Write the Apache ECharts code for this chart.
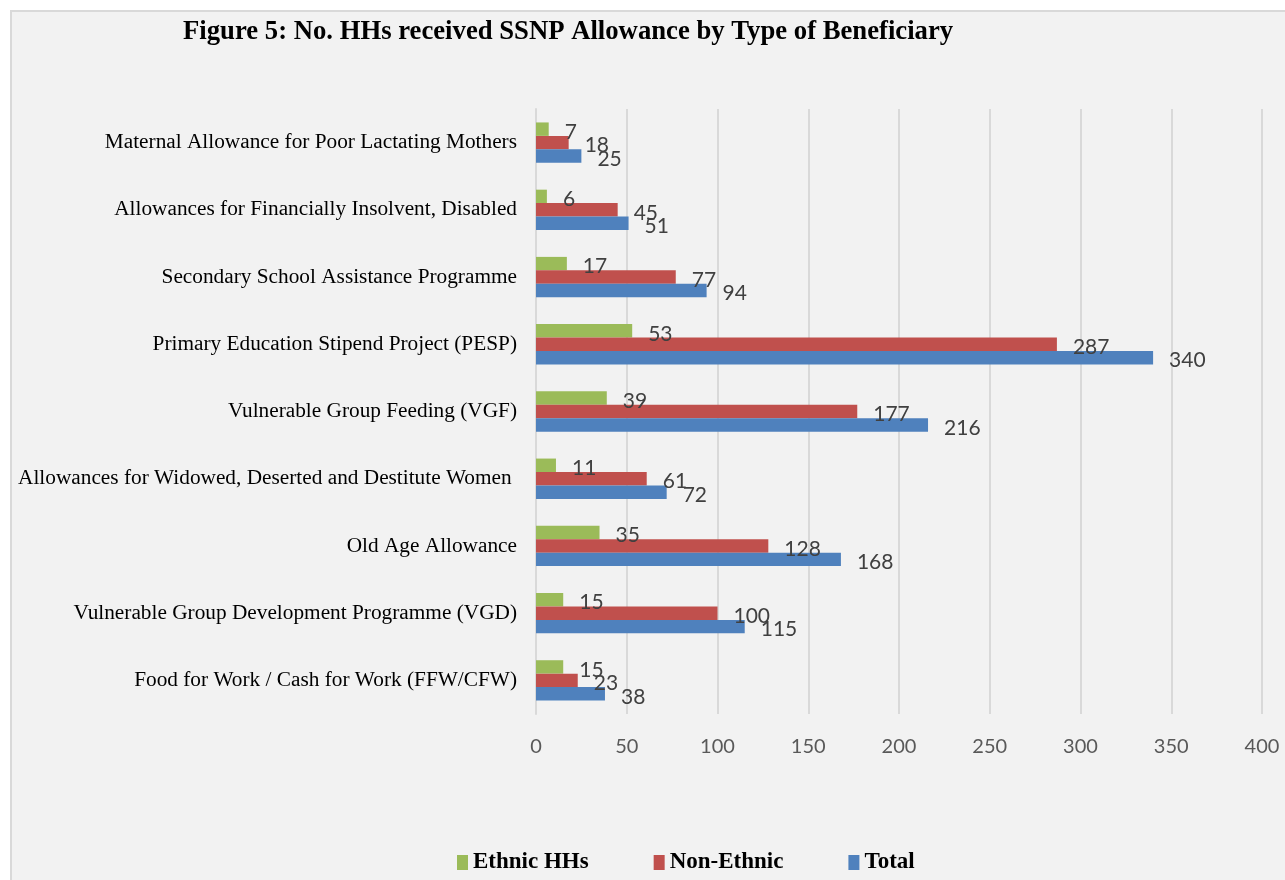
<!DOCTYPE html>
<html>
<head>
<meta charset="utf-8">
<title>No. HHs received SSNP Allowance by Type of Beneficiary</title>
<script src="https://cdn.jsdelivr.net/npm/echarts@6/dist/echarts.min.js"></script>
<style>
  html, body { margin: 0; padding: 0; background: #ffffff; }
  #chart { width: 1285px; height: 880px; }
</style>
</head>
<body>
<div id="chart"></div>
<script>
// Beneficiary programmes, listed from the bottom of the axis upward
const categories = [
  'Food for Work / Cash for Work (FFW/CFW)',
  'Vulnerable Group Development Programme (VGD)',
  'Old Age Allowance',
  'Allowances for Widowed, Deserted and Destitute Women ',
  'Vulnerable Group Feeding (VGF)',
  'Primary Education Stipend Project (PESP)',
  'Secondary School Assistance Programme',
  'Allowances for Financially Insolvent, Disabled',
  'Maternal Allowance for Poor Lactating Mothers'
];
const totalHHs     = [38, 115, 168, 72, 216, 340, 94, 51, 25];
const nonEthnicHHs = [23, 100, 128, 61, 177, 287, 77, 45, 18];
const ethnicHHs    = [15, 15, 35, 11, 39, 53, 17, 6, 7];
const legendOrder  = ['Ethnic HHs', 'Non-Ethnic', 'Total'];

const chart = echarts.init(document.getElementById('chart'));

const labelStyle = {
  show: true,
  position: 'right',
  distance: 16,
  offset: [0, 3],
  color: '#404040',
  fontFamily: 'Lato, "Open Sans", sans-serif',
  fontSize: 21
};

function barSeries(name, data, color) {
  return {
    name: name,
    type: 'bar',
    data: data,
    barGap: '0%',
    barCategoryGap: '40%',
    itemStyle: { color: color },
    label: labelStyle,
    emphasis: { disabled: true }
  };
}

chart.setOption({
  backgroundColor: '#ffffff',
  animation: false,
  graphic: [{
    type: 'rect',
    z: -10,
    silent: true,
    shape: { x: 11, y: 11, width: 1300, height: 900 },
    style: { fill: '#f2f2f2', stroke: '#d9d9d9', lineWidth: 2 }
  }],
  title: {
    text: 'Figure 5: No. HHs received SSNP Allowance by Type of Beneficiary',
    left: 183,
    top: 19,
    padding: 0,
    textStyle: {
      fontFamily: '"Liberation Serif", "Times New Roman", serif',
      fontWeight: 'bold',
      fontSize: 26.7,
      color: '#000000'
    }
  },
  legend: {
    data: legendOrder,
    left: 457,
    top: 851,
    padding: 0,
    itemWidth: 11,
    itemHeight: 15,
    itemGap: 65,
    icon: 'rect',
    selectedMode: false,
    textStyle: {
      fontFamily: '"Liberation Serif", "Times New Roman", serif',
      fontWeight: 'bold',
      fontSize: 23,
      color: '#000000'
    }
  },
  grid: {
    left: 536,
    right: 23,
    top: 109,
    bottom: 166,
    containLabel: false
  },
  xAxis: {
    type: 'value',
    min: 0,
    max: 400,
    interval: 50,
    axisLine: { show: false },
    axisTick: { show: false },
    splitLine: { show: true, lineStyle: { color: '#d9d9d9', width: 2 } },
    axisLabel: {
      margin: 23,
      color: '#595959',
      fontFamily: 'Lato, "Open Sans", sans-serif',
      fontSize: 20
    }
  },
  yAxis: {
    type: 'category',
    data: categories,
    axisLine: { show: true, lineStyle: { color: '#d9d9d9', width: 2 } },
    axisTick: { show: false },
    axisLabel: {
      margin: 19,
      color: '#000000',
      fontFamily: '"Liberation Serif", "Times New Roman", serif',
      fontSize: 21.3
    }
  },
  // Within each programme the bands stack top-down: Ethnic, Non-Ethnic, Total
  series: [
    barSeries('Ethnic HHs', ethnicHHs, '#9bbb59'),
    barSeries('Non-Ethnic', nonEthnicHHs, '#c0504d'),
    barSeries('Total', totalHHs, '#4f81bd')
  ]
});
</script>
</body>
</html>
